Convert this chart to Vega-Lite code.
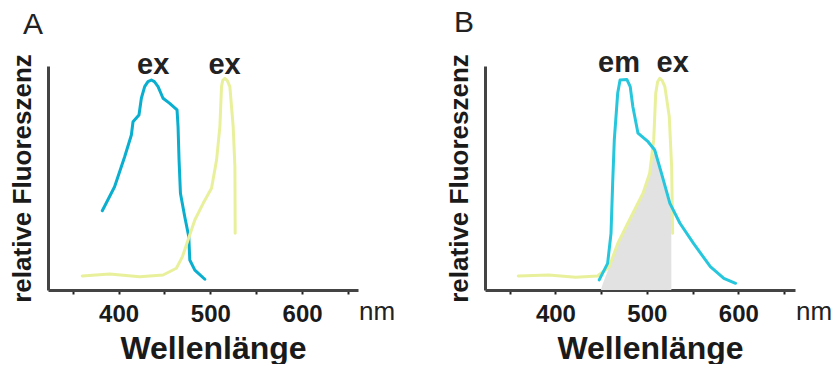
{
  "$schema": "https://vega.github.io/schema/vega-lite/v6.json",
  "background": "white",
  "padding": {"left": 8, "top": 8, "right": 0, "bottom": 0},
  "config": {
    "view": {"stroke": null},
    "font": "Liberation Sans",
    "concat": {"spacing": 49},
    "axisX": {
      "values": [350, 400, 450, 500, 550, 600],
      "labelExpr": "datum.value % 100 == 0 ? datum.label : ''",
      "titleFontSize": 32,
      "titleFontWeight": "bold",
      "titleColor": "#1a1a1a",
      "titleX": 165,
      "titlePadding": 7,
      "labelFontSize": 24,
      "labelFontWeight": "bold",
      "labelColor": "#1a1a1a",
      "labelPadding": 8,
      "labelFlush": false,
      "labelOverlap": false,
      "domainColor": "#444444",
      "domainWidth": 3,
      "tickColor": "#222222",
      "tickSize": 4,
      "tickWidth": 2,
      "grid": false
    },
    "axisY": {
      "titleFontSize": 26,
      "titleFontWeight": "bold",
      "titleColor": "#1a1a1a",
      "titlePadding": 13,
      "labels": false,
      "ticks": false,
      "grid": false,
      "domainColor": "#444444",
      "domainWidth": 3
    },
    "title": {"anchor": "start", "frame": "bounds", "fontSize": 30, "fontWeight": "normal", "color": "#222222", "offset": 11}
  },
  "hconcat": [
    {
      "width": 310,
      "height": 224,
      "title": {"text": "A", "dx": 14},
      "data": {"values": [
        {"s": "blue", "nm": 382.2, "v": 0.354},
        {"s": "blue", "nm": 395.6, "v": 0.461},
        {"s": "blue", "nm": 406.6, "v": 0.595},
        {"s": "blue", "nm": 413.9, "v": 0.692},
        {"s": "blue", "nm": 415.7, "v": 0.751},
        {"s": "blue", "nm": 422.2, "v": 0.781},
        {"s": "blue", "nm": 424.8, "v": 0.856},
        {"s": "blue", "nm": 428.4, "v": 0.908},
        {"s": "blue", "nm": 432.0, "v": 0.93},
        {"s": "blue", "nm": 435.7, "v": 0.9375},
        {"s": "blue", "nm": 439.0, "v": 0.93},
        {"s": "blue", "nm": 443.0, "v": 0.908},
        {"s": "blue", "nm": 448.4, "v": 0.856},
        {"s": "blue", "nm": 455.7, "v": 0.833},
        {"s": "blue", "nm": 463.7, "v": 0.804},
        {"s": "blue", "nm": 464.8, "v": 0.729},
        {"s": "blue", "nm": 465.9, "v": 0.58},
        {"s": "blue", "nm": 467.4, "v": 0.432},
        {"s": "blue", "nm": 472.1, "v": 0.327},
        {"s": "blue", "nm": 476.5, "v": 0.238},
        {"s": "blue", "nm": 477.6, "v": 0.134},
        {"s": "blue", "nm": 483.1, "v": 0.089},
        {"s": "blue", "nm": 494.0, "v": 0.048},
        {"s": "yellow", "nm": 360.3, "v": 0.0625},
        {"s": "yellow", "nm": 390.2, "v": 0.071},
        {"s": "yellow", "nm": 423.0, "v": 0.059},
        {"s": "yellow", "nm": 448.4, "v": 0.067},
        {"s": "yellow", "nm": 463.0, "v": 0.097},
        {"s": "yellow", "nm": 469.6, "v": 0.149},
        {"s": "yellow", "nm": 475.7, "v": 0.223},
        {"s": "yellow", "nm": 483.1, "v": 0.3125},
        {"s": "yellow", "nm": 492.2, "v": 0.387},
        {"s": "yellow", "nm": 501.3, "v": 0.454},
        {"s": "yellow", "nm": 506.8, "v": 0.58},
        {"s": "yellow", "nm": 510.4, "v": 0.729},
        {"s": "yellow", "nm": 512.2, "v": 0.908},
        {"s": "yellow", "nm": 513.5, "v": 0.935},
        {"s": "yellow", "nm": 515.8, "v": 0.945},
        {"s": "yellow", "nm": 518.5, "v": 0.935},
        {"s": "yellow", "nm": 521.3, "v": 0.908},
        {"s": "yellow", "nm": 524.9, "v": 0.729},
        {"s": "yellow", "nm": 526.8, "v": 0.55},
        {"s": "yellow", "nm": 527.1, "v": 0.253}
      ]},
      "encoding": {
        "x": {"field": "nm", "type": "quantitative", "scale": {"domain": [323, 661], "nice": false, "zero": false}, "axis": {"title": "Wellenlänge"}},
        "y": {"field": "v", "type": "quantitative", "scale": {"domain": [0, 1], "nice": false}, "axis": {"title": "relative Fluoreszenz"}}
      },
      "layer": [
        {
          "transform": [{"filter": "datum.s == 'blue'"}],
          "mark": {"type": "line", "color": "#0aaecf", "strokeWidth": 3, "strokeCap": "round", "strokeJoin": "round"}
        },
        {
          "transform": [{"filter": "datum.s == 'yellow'"}],
          "mark": {"type": "line", "color": "#e9f09c", "strokeWidth": 3, "strokeCap": "round", "strokeJoin": "round"}
        },
        {
          "data": {"values": [
            {"nm": 437.7, "v": 0.965, "t": "ex"},
            {"nm": 515.5, "v": 0.965, "t": "ex"}
          ]},
          "mark": {"type": "text", "fontSize": 29, "fontWeight": "bold", "baseline": "alphabetic", "color": "#222222"},
          "encoding": {"text": {"field": "t"}}
        },
        {
          "data": {"values": [{"nm": 661, "v": -0.134, "t": "nm"}]},
          "mark": {"type": "text", "fontSize": 26, "fontWeight": "normal", "baseline": "alphabetic", "align": "left", "dx": 1, "color": "#222222"},
          "encoding": {"text": {"field": "t"}}
        }
      ]
    },
    {
      "width": 310,
      "height": 224,
      "title": {"text": "B", "dx": 8},
      "data": {"values": [
        {"s": "gray", "nm": 449.7, "v": 0},
        {"s": "gray", "nm": 452.0, "v": 0.03},
        {"s": "gray", "nm": 458.9, "v": 0.104},
        {"s": "gray", "nm": 468.2, "v": 0.208},
        {"s": "gray", "nm": 481.0, "v": 0.3125},
        {"s": "gray", "nm": 495.8, "v": 0.432},
        {"s": "gray", "nm": 503.1, "v": 0.521},
        {"s": "gray", "nm": 505.8, "v": 0.6},
        {"s": "gray", "nm": 508.6, "v": 0.615},
        {"s": "gray", "nm": 516.0, "v": 0.521},
        {"s": "gray", "nm": 525.2, "v": 0.387},
        {"s": "gray", "nm": 526.7, "v": 0.37},
        {"s": "gray", "nm": 526.8, "v": 0},
        {"s": "blue", "nm": 447.9, "v": 0.045},
        {"s": "blue", "nm": 457.1, "v": 0.119},
        {"s": "blue", "nm": 460.8, "v": 0.253},
        {"s": "blue", "nm": 462.6, "v": 0.476},
        {"s": "blue", "nm": 464.4, "v": 0.67},
        {"s": "blue", "nm": 468.1, "v": 0.878},
        {"s": "blue", "nm": 470.7, "v": 0.9375},
        {"s": "blue", "nm": 478.1, "v": 0.94},
        {"s": "blue", "nm": 481.8, "v": 0.908},
        {"s": "blue", "nm": 484.7, "v": 0.818},
        {"s": "blue", "nm": 490.3, "v": 0.7},
        {"s": "blue", "nm": 501.3, "v": 0.662},
        {"s": "blue", "nm": 508.6, "v": 0.625},
        {"s": "blue", "nm": 516.0, "v": 0.521},
        {"s": "blue", "nm": 525.2, "v": 0.387},
        {"s": "blue", "nm": 536.2, "v": 0.298},
        {"s": "blue", "nm": 551.0, "v": 0.208},
        {"s": "blue", "nm": 569.4, "v": 0.104},
        {"s": "blue", "nm": 584.2, "v": 0.052},
        {"s": "blue", "nm": 597.0, "v": 0.03},
        {"s": "yellow", "nm": 359.4, "v": 0.0625},
        {"s": "yellow", "nm": 392.6, "v": 0.067},
        {"s": "yellow", "nm": 422.1, "v": 0.057},
        {"s": "yellow", "nm": 446.1, "v": 0.0625},
        {"s": "yellow", "nm": 458.9, "v": 0.104},
        {"s": "yellow", "nm": 468.2, "v": 0.208},
        {"s": "yellow", "nm": 481.0, "v": 0.3125},
        {"s": "yellow", "nm": 495.8, "v": 0.432},
        {"s": "yellow", "nm": 503.1, "v": 0.521},
        {"s": "yellow", "nm": 507.5, "v": 0.67},
        {"s": "yellow", "nm": 509.7, "v": 0.878},
        {"s": "yellow", "nm": 511.8, "v": 0.93},
        {"s": "yellow", "nm": 514.1, "v": 0.945},
        {"s": "yellow", "nm": 516.8, "v": 0.935},
        {"s": "yellow", "nm": 519.7, "v": 0.908},
        {"s": "yellow", "nm": 524.5, "v": 0.774},
        {"s": "yellow", "nm": 527.1, "v": 0.55},
        {"s": "yellow", "nm": 528.2, "v": 0.253}
      ]},
      "encoding": {
        "x": {"field": "nm", "type": "quantitative", "scale": {"domain": [323, 662], "nice": false, "zero": false}, "axis": {"title": "Wellenlänge"}},
        "y": {"field": "v", "type": "quantitative", "scale": {"domain": [0, 1], "nice": false}, "axis": {"title": "relative Fluoreszenz"}}
      },
      "layer": [
        {
          "transform": [{"filter": "datum.s == 'gray'"}],
          "mark": {"type": "area", "color": "#e2e2e2"}
        },
        {
          "transform": [{"filter": "datum.s == 'yellow'"}],
          "mark": {"type": "line", "color": "#e9f09c", "strokeWidth": 3, "strokeCap": "round", "strokeJoin": "round"}
        },
        {
          "transform": [{"filter": "datum.s == 'blue'"}],
          "mark": {"type": "line", "color": "#26c6dc", "strokeWidth": 3, "strokeCap": "round", "strokeJoin": "round"}
        },
        {
          "data": {"values": [
            {"nm": 469.6, "v": 0.973, "t": "em"},
            {"nm": 528.2, "v": 0.973, "t": "ex"}
          ]},
          "mark": {"type": "text", "fontSize": 29, "fontWeight": "bold", "baseline": "alphabetic", "color": "#222222"},
          "encoding": {"text": {"field": "t"}}
        },
        {
          "data": {"values": [{"nm": 662, "v": -0.134, "t": "nm"}]},
          "mark": {"type": "text", "fontSize": 26, "fontWeight": "normal", "baseline": "alphabetic", "align": "left", "dx": 1, "color": "#222222"},
          "encoding": {"text": {"field": "t"}}
        }
      ]
    }
  ]
}
